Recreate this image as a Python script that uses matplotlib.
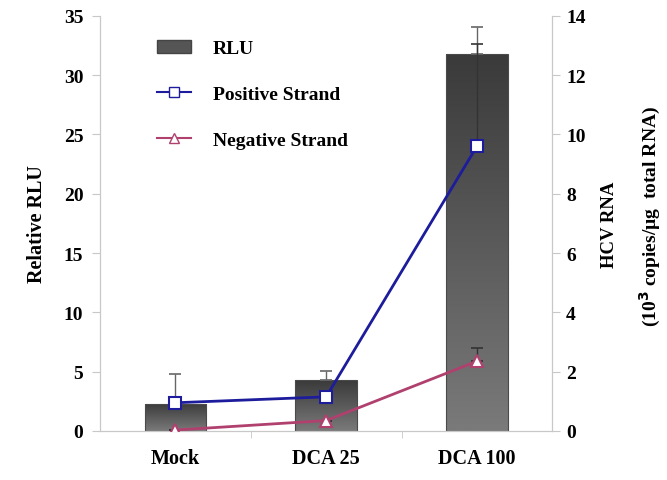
import numpy as np
import matplotlib.pyplot as plt
from matplotlib.colors import LinearSegmentedColormap
from matplotlib.patches import Patch
from matplotlib.lines import Line2D

# data
groups = ["Mock", "DCA 25", "DCA 100"]
rlu = [2.3, 4.3, 31.8]
rlu_err = [2.5, 0.75, 2.3]
pos_strand = [0.95, 1.15, 9.6]
pos_err = [0, 0, 3.45]
neg_strand = [0.03, 0.35, 2.35]
neg_err = [0, 0, 0.45]

plt.rcParams['font.family'] = ['Liberation Serif', 'DejaVu Serif']
plt.rcParams['font.weight'] = 'bold'
axis_col = '#c8c8c8'
blue = '#1c1c9c'
pink = '#b0406e'

fig = plt.figure(figsize=(6.67, 4.81), dpi=100)
ax = fig.add_axes([0.15, 0.102, 0.678, 0.863])
ax2 = ax.twinx()

x = np.arange(len(groups))
bars = ax.bar(x, rlu, width=0.41, color='none', edgecolor='#4a4a4a', lw=0.8, zorder=2)

# vertical grey gradient inside each bar, dark at the top
grey = LinearSegmentedColormap.from_list('g', ['#7a7a7a', '#3a3a3a'])
grad = np.linspace(0, 1, 256).reshape(-1, 1)
for b in bars:
    x0, y0 = b.get_x(), b.get_y()
    w, h = b.get_width(), b.get_height()
    im = ax.imshow(grad, cmap=grey, aspect='auto', origin='lower',
                   extent=[x0, x0 + w, y0, y0 + h], zorder=1.9)
    im.set_clip_path(b)

ax.errorbar(x, rlu, yerr=[np.zeros(3), rlu_err], fmt='none', ecolor='#666666',
            elinewidth=1, capsize=4, capthick=1.2, zorder=3)

ax2.errorbar(x, pos_strand, yerr=[np.zeros(3), pos_err], fmt='none', ecolor='#333333',
             elinewidth=1, capsize=4, capthick=1.2, zorder=3)
ax2.errorbar(x, neg_strand, yerr=[np.zeros(3), neg_err], fmt='none', ecolor='#333333',
             elinewidth=1, capsize=4, capthick=1.2, zorder=3)
ax2.plot(x, pos_strand, color=blue, lw=2, marker='s', ms=8, mfc='white',
         mec=blue, mew=1.5, zorder=4)
ax2.plot(x, neg_strand, color=pink, lw=2, marker='^', ms=8, mfc='white',
         mec=pink, mew=1.5, zorder=4)

ax.set_xlim(-0.5, 2.5)
ax.set_ylim(0, 35)
ax2.set_ylim(0, 14)
ax.set_yticks(range(0, 36, 5))
ax2.set_yticks(range(0, 15, 2))
ax.set_xticks(x)
ax.set_xticklabels(groups, fontsize=14.5, fontweight='bold')
ax.set_xticks([0.5, 1.5], minor=True)
ax.tick_params(axis='x', which='major', length=0, pad=12)
ax.tick_params(axis='x', which='minor', length=5, color=axis_col)
ax.tick_params(axis='y', length=6, color=axis_col, labelsize=14, pad=6)
ax2.tick_params(axis='y', length=6, color=axis_col, labelsize=14, pad=4)

for a in (ax, ax2):
    a.spines['top'].set_visible(False)
    for s in ('left', 'right', 'bottom'):
        a.spines[s].set_color(axis_col)

ax.set_ylabel("Relative RLU", fontsize=14.5, fontweight='bold', labelpad=12)
ax2.set_ylabel("HCV RNA", fontsize=13.5, fontweight='bold', labelpad=11)
fig.text(0.975, 0.55, r"(10$^{\mathbf{3}}$ copies/µg  total RNA)", rotation=90,
         ha='center', va='center', fontsize=14, fontweight='bold')

handles = [
    Patch(facecolor='#555555', edgecolor='#444444'),
    Line2D([], [], color=blue, lw=1.5, marker='s', ms=7, mfc='white', mec=blue),
    Line2D([], [], color=pink, lw=1.5, marker='^', ms=7, mfc='white', mec=pink),
]
ax2.legend(handles, ["RLU", "Positive Strand", "Negative Strand"], loc='upper left',
           bbox_to_anchor=(0.088, 0.985), frameon=False,
           labelspacing=1.45, handlelength=1.75, handletextpad=1.1,
           prop={'weight': 'bold', 'size': 14})

fig.savefig("out.png", dpi=100)
